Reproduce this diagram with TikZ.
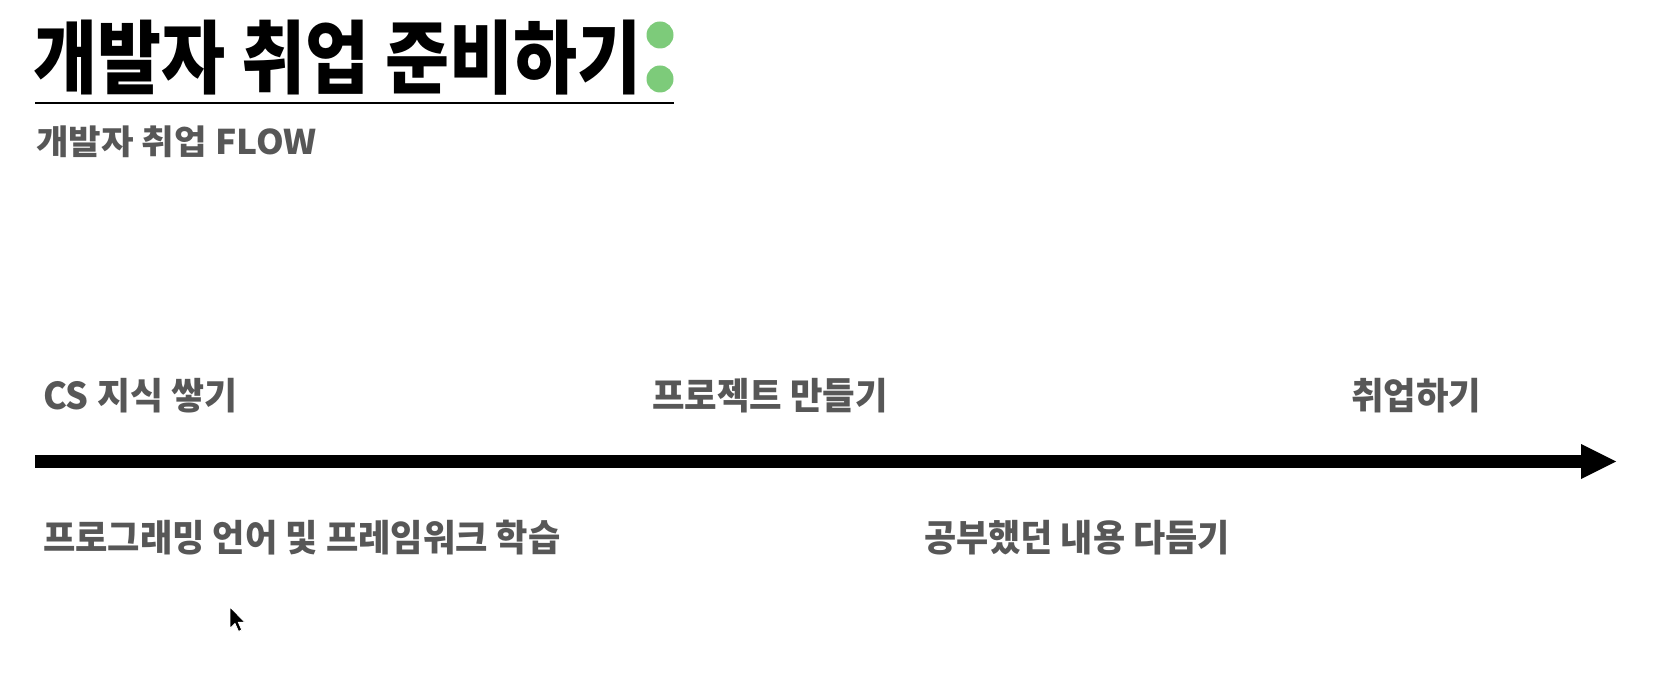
\documentclass[tikz,border=0pt]{standalone}
\usepackage{fontspec}
\usetikzlibrary{arrows.meta}
\newfontfamily\kr{Noto Sans CJK KR}[BoldFont={* Bold}]
\newfontfamily\krb{Noto Sans CJK KR Black}
\definecolor{txtgray}{HTML}{575757}
\definecolor{dotgreen}{HTML}{7DCB7A}
\tikzset{
  lbl/.style={anchor=west, inner sep=0pt, text=txtgray, font=\krb\fontsize{37}{37}\selectfont},
  ttl/.style={anchor=west, inner sep=0pt, text=black, font=\krb\fontsize{80}{80}\selectfont},
  dot/.style={circle, fill=dotgreen, inner sep=0pt, minimum size=27pt},
}
\begin{document}
\begin{tikzpicture}[x=1pt,y=-1pt]
\useasboundingbox (0,0) rectangle (1656,676);
% title
\node[ttl] (title) at (33,58) {\scalebox{0.87}[1]{개발자 취업 준비하기}};
\node[dot] (d1) at (660,35) {};
\node[dot] (d2) at (660,79) {};
\coordinate (u1) at (35,103.5);
\coordinate (u2) at (674,103.5);
\draw[line width=2pt] (u1) -- (u2);
\node[lbl, font=\krb\fontsize{34}{34}\selectfont] (sub) at (36,142) {\scalebox{1.04}[1]{개발자 취업 FLOW}};
% timeline
\coordinate (s) at (35,461.5);
\coordinate (e) at (1616,461.5);
\draw[line width=12.7pt, -{Triangle[length=35pt,width=35pt,line width=0pt]}] (s) -- (e);
% labels
\node[lbl] (cs) at (43,396) {\scalebox{0.97}[1]{CS 지식 쌓기}};
\node[lbl] (proj) at (652,396) {\scalebox{0.955}[1]{프로젝트 만들기}};
\node[lbl] (job) at (1351,396) {\scalebox{0.955}[1]{취업하기}};
\node[lbl] (lang) at (43,538) {\scalebox{0.95}[1]{프로그래밍 언어 및 프레임워크 학습}};
\node[lbl] (rev) at (924,538) {\scalebox{0.945}[1]{공부했던 내용 다듬기}};
% cursor
\fill[black, draw=white, line width=0.8pt, shift={(230,607)}, scale=1.25]
  (0,0) -- (0,17) -- (4,13.2) -- (6.8,19.5) -- (9.4,18.4) -- (6.7,12.3) -- (12,12.3) -- cycle;
\end{tikzpicture}
\end{document}
